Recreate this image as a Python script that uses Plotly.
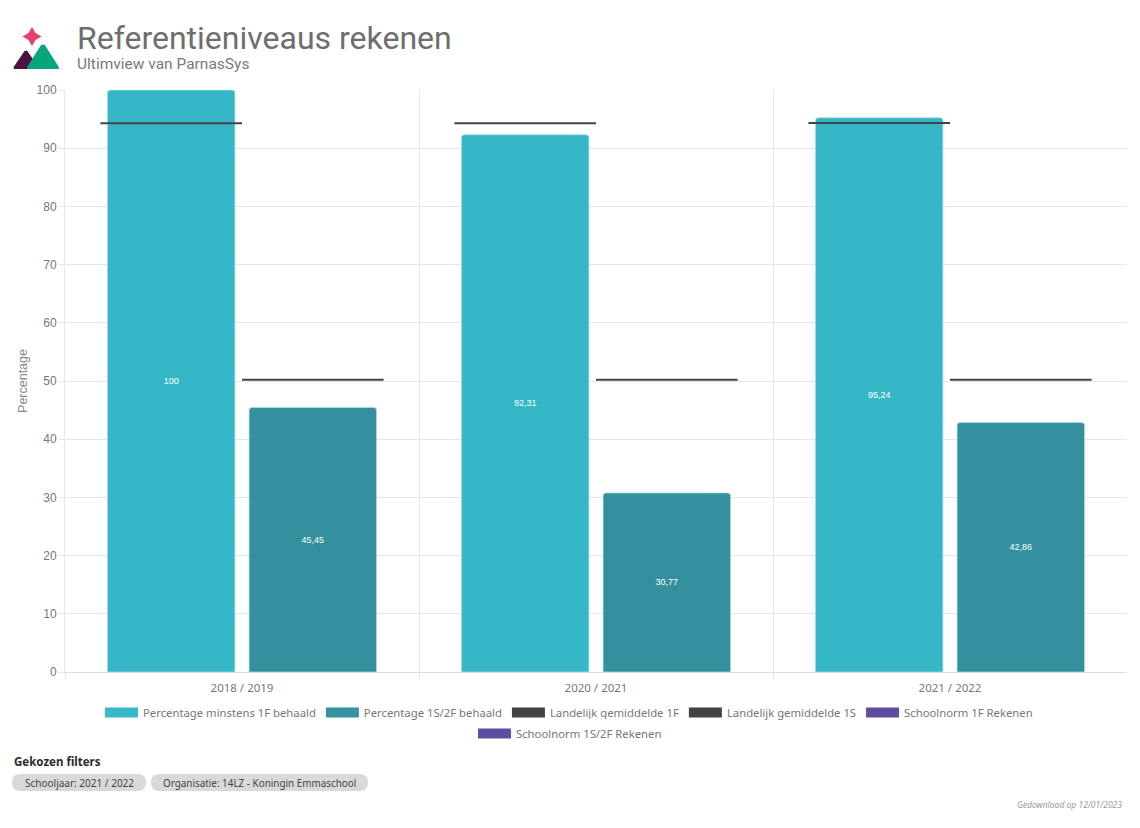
import plotly.graph_objects as go

years = ["2018 / 2019", "2020 / 2021", "2021 / 2022"]
pct_1f = [100, 92.31, 95.24]
pct_1s = [45.45, 30.77, 42.86]
avg_1f = [94.3, 94.3, 94.35]
avg_1s = [50.2, 50.2, 50.2]

names = ["Percentage minstens 1F behaald", "Percentage 1S/2F behaald", "Landelijk gemiddelde 1F",
         "Landelijk gemiddelde 1S", "Schoolnorm 1F Rekenen", "Schoolnorm 1S/2F Rekenen"]
colors = ["#38B8C9", "#37929F", "#434343", "#434343", "#5F4E9F", "#5F4E9F"]

FONT = "Noto Sans"
HEAD_FONT = "Roboto"
W, H = 1140, 828
L, R, T, B = 65, 13, 90, 156


def px(x):
    return (x - L) / (W - L - R)


def py(y):
    return (H - B - y) / (H - T - B)


def comma(v):
    return str(v).replace(".", ",")


def segments(values, start):
    xs, ys = [], []
    for i, v in enumerate(values):
        xs += [i + start, i + start + 0.4, None]
        ys += [v, v, None]
    return xs, ys


fig = go.Figure()

# bars
for vals, name, col in [(pct_1f, names[0], "rgba(40,178,197,0.94)"), (pct_1s, names[1], "rgba(40,137,151,0.94)")]:
    fig.add_trace(go.Bar(
        x=years, y=vals, name=name, showlegend=False,
        text=[comma(v) for v in vals], textposition="inside", insidetextanchor="middle",
        textangle=0, textfont=dict(color="white", size=9, family="Liberation Sans"),
        marker=dict(color=col, cornerradius=3, line=dict(color="rgba(170,225,232,0.7)", width=1)),
    ))

# national averages, drawn over both slots of each group
for vals, start, name in [(avg_1f, -0.4, names[2]), (avg_1s, 0.0, names[3])]:
    xs, ys = segments(vals, start)
    fig.add_trace(go.Scatter(x=xs, y=ys, xaxis="x2", mode="lines", name=name, showlegend=False,
                             line=dict(color="#434343", width=2)))

# legend entries, chart.js style boxes
for i, (name, col) in enumerate(zip(names, colors)):
    fig.add_trace(go.Scatter(x=[None], y=[None], xaxis="x2", mode="lines", name=name,
                             legend="legend2" if i == 5 else "legend",
                             line=dict(color=col, width=12)))

shapes = []


def path_shape(path, color):
    shapes.append(dict(type="path", xref="paper", yref="paper", path=path, fillcolor=color, line=dict(width=0)))


def pts(points):
    return " ".join(f"{'M' if i == 0 else 'L'}{px(x):.5f},{py(y):.5f}" for i, (x, y) in enumerate(points)) + " Z"


# logo
path_shape(pts([(32, 27), (35.5, 33), (41.5, 36.5), (35.5, 40), (32, 46), (28.5, 40), (22.5, 36.5), (28.5, 33)]), "#E83E6B")
path_shape(pts([(13.5, 68), (14, 66.5), (24.5, 51), (27, 50.5), (38, 66.5), (38, 69), (14, 69)]), "#4A1340")
path_shape(pts([(27, 68), (27.5, 66.5), (41, 45), (44.5, 44.5), (58.5, 66.5), (59, 69), (28, 69)]), "#04A67A")

# no tick or grid at the far right in the original
path_shape(pts([(1126.6, 88), (1129, 88), (1129, 680), (1126.6, 680)]), "white")


# filter pills
def pill(x0, x1, y0, y1):
    r = (y1 - y0) / 2
    path = (f"M{px(x0 + r):.5f},{py(y0):.5f} L{px(x1 - r):.5f},{py(y0):.5f} "
            f"Q{px(x1):.5f},{py(y0):.5f} {px(x1):.5f},{py(y0 + r):.5f} "
            f"Q{px(x1):.5f},{py(y1):.5f} {px(x1 - r):.5f},{py(y1):.5f} "
            f"L{px(x0 + r):.5f},{py(y1):.5f} "
            f"Q{px(x0):.5f},{py(y1):.5f} {px(x0):.5f},{py(y0 + r):.5f} "
            f"Q{px(x0):.5f},{py(y0):.5f} {px(x0 + r):.5f},{py(y0):.5f} Z")
    path_shape(path, "#D9D9D9")


pill(12, 146, 774, 791)
pill(151, 368, 774, 791)


def label(x, y, text, size, color, anchor="left", family=FONT, **kw):
    return dict(xref="paper", yref="paper", x=px(x), y=py(y), text=text, showarrow=False, xanchor=anchor,
                yanchor="middle", font=dict(size=size, color=color, family=family, **kw))


annotations = [
    label(75, 37.5, "Referentieniveaus rekenen", 32, "#6E6E6E", family=HEAD_FONT),
    label(75, 64.5, "Ultimview van ParnasSys", 15.5, "#7A7A7A", family=HEAD_FONT),
    label(12, 762, "<b>Gekozen filters</b>", 11.5, "#2B2B2B"),
    label(161, 783, "Organisatie: 14LZ - Koningin Emmaschool", 9.9, "#444444"),
    label(23, 783, "Schooljaar: 2021 / 2022", 10, "#444444"),
    label(1124, 804, "Gedownload op 12/01/2023", 8.5, "#9A9A9A", anchor="right", style="italic"),
]

fig.update_layout(
    width=W, height=H,
    margin=dict(l=L, r=R, t=T, b=B, autoexpand=False),
    paper_bgcolor="white", plot_bgcolor="white",
    barmode="group", bargap=0.2, bargroupgap=0.1,
    font=dict(family=FONT, color="#777777"),
    shapes=shapes, annotations=annotations,
    xaxis=dict(type="category", categoryorder="array", categoryarray=years, tickson="boundaries",
               ticks="outside", ticklen=6, tickcolor="#E4E4E4", gridcolor="#E6E6E6", showgrid=True,
               linecolor="#DDDDDD", showline=True, ticklabelstandoff=5,
               tickfont=dict(size=11.5, color="#777777")),
    xaxis2=dict(overlaying="x", range=[-0.5, 2.5], visible=False),
    yaxis=dict(range=[0, 100], dtick=10, ticks="outside", ticklen=5, tickcolor="#E4E4E4",
               gridcolor="#E6E6E6", zeroline=False, linecolor="#E6E6E6", showline=True,
               tickfont=dict(size=12, color="#777777", family="Liberation Sans"),
               title=dict(text="Percentage", font=dict(size=12.5, color="#888888", family="Liberation Sans"), standoff=6)),
    legend=dict(orientation="h", x=px(569), xanchor="center", y=py(698), yanchor="top",
                itemwidth=33, font=dict(size=11.3, color="#777777"), itemclick=False, itemdoubleclick=False),
    legend2=dict(orientation="h", x=px(570), xanchor="center", y=py(719), yanchor="top",
                 itemwidth=33, font=dict(size=11.3, color="#777777"), itemclick=False, itemdoubleclick=False),
)

fig.write_html("out.html", config={"displayModeBar": False}, post_script="document.body.style.margin='0'")
